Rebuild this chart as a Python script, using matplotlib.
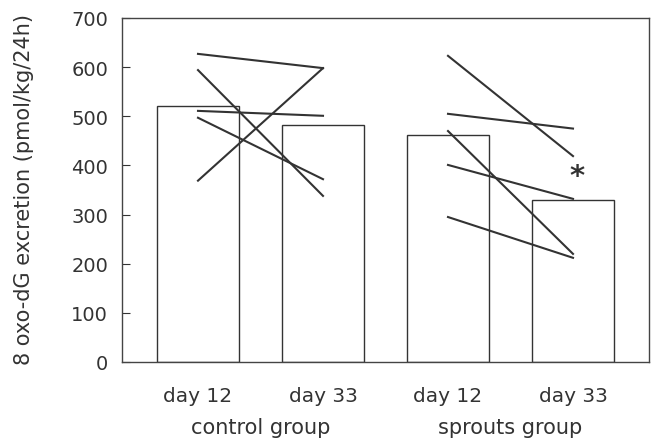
import matplotlib.pyplot as plt
import numpy as np

# group / day layout
day_labels = ['day 12', 'day 33', 'day 12', 'day 33']
group_labels = ['control group', 'sprouts group']
bar_means = [520, 482, 462, 330]

# individual subjects (day 12 -> day 33)
control_d12 = [627, 594, 511, 497, 369]
control_d33 = [598, 338, 501, 372, 598]
sprouts_d12 = [623, 505, 470, 401, 295]
sprouts_d33 = [419, 475, 220, 332, 212]

plt.rcParams['font.family'] = 'DejaVu Sans'
fig = plt.figure(figsize=(6.56, 4.39), dpi=100)
ax = fig.add_axes([122 / 656, 1 - 363 / 439, 527 / 656, 344 / 439])

x = np.arange(len(bar_means))
ax.bar(x, bar_means, width=0.656, facecolor='white', edgecolor='#333333', linewidth=1.0, zorder=1)

for a, b in zip(control_d12, control_d33):
    ax.plot([x[0], x[1]], [a, b], color='#333333', lw=1.5, zorder=2)
for a, b in zip(sprouts_d12, sprouts_d33):
    ax.plot([x[2], x[3]], [a, b], color='#333333', lw=1.5, zorder=2)

# significance marker
ax.text(x[3] + 0.03, 378, '*', ha='center', va='center', fontsize=21, fontweight='bold', color='#333333')

ax.set_xlim(-0.608, 3.608)
ax.set_ylim(0, 700)
ax.set_yticks(range(0, 701, 100))
ax.set_xticks(x)
ax.set_xticklabels(day_labels)
ax.tick_params(axis='y', direction='in', length=6, labelsize=14, colors='#333333', pad=10)
ax.tick_params(axis='x', length=0, labelsize=14.5, colors='#333333', pad=17)
for s in ax.spines.values():
    s.set_color('#444444')
    s.set_linewidth(1.0)

for i, g in enumerate(group_labels):
    ax.text((x[2 * i] + x[2 * i + 1]) / 2, -0.189, g, transform=ax.get_xaxis_transform(),
            ha='center', va='center', fontsize=15, color='#333333')

ax.set_ylabel('8 oxo-dG excretion (pmol/kg/24h)', fontsize=15, color='#333333', va='center')
ax.yaxis.set_label_coords(-0.186, 0.505)

fig.savefig('out.png', dpi=100)
